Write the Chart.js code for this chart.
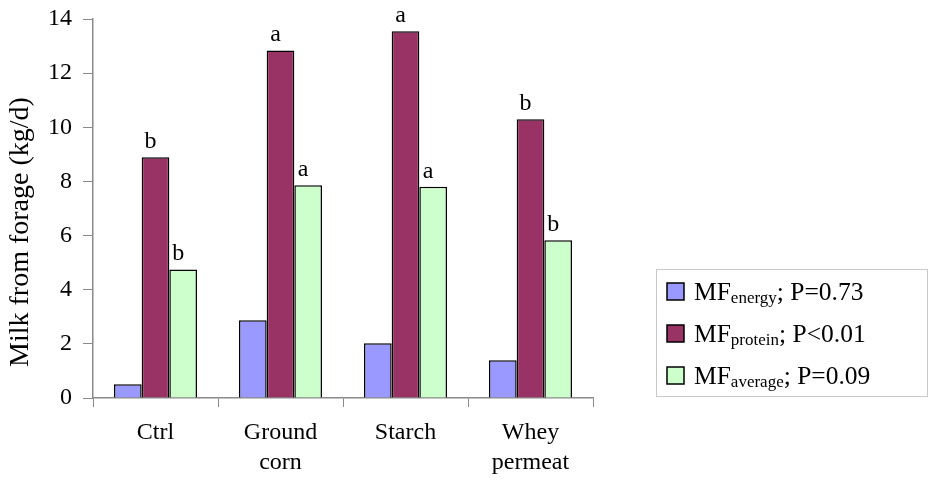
<!DOCTYPE html>
<html>
<head>
<meta charset="utf-8">
<script src="https://cdn.jsdelivr.net/npm/chart.js@4"></script>
<style>
  html, body { margin: 0; padding: 0; background: #ffffff; }
  #wrap { width: 930px; height: 480px; position: relative; }
</style>
</head>
<body>
<div id="wrap"><canvas id="c" width="930" height="480"></canvas></div>
<script>
// ---- data ----
const categories = ['Ctrl', ['Ground', 'corn'], 'Starch', ['Whey', 'permeat']];
const energyValues = [0.51, 2.87, 2.02, 1.39];
const proteinValues = [8.89, 12.84, 13.55, 10.30];
const averageValues = [4.75, 7.86, 7.80, 5.83];
const proteinLetters = ['b', 'a', 'a', 'b'];
const averageLetters = ['b', 'a', 'a', 'b'];
const seriesMain = ['MF', 'MF', 'MF'];
const seriesSub = ['energy', 'protein', 'average'];
const seriesP = ['; P=0.73', '; P<0.01', '; P=0.09'];
const yTicks = [0, 2, 4, 6, 8, 10, 12, 14];
const yTitle = 'Milk from forage (kg/d)';

const colors = ['#9999FF', '#993366', '#CCFFCC'];
const FONT = '"Liberation Serif", "Times New Roman", serif';
const axisColor = '#8a8a8a';

const lettersPlugin = {
  id: 'letters',
  afterDatasetsDraw(chart) {
    const ctx = chart.ctx;
    ctx.save();
    ctx.font = '24px ' + FONT;
    ctx.fillStyle = '#000';
    ctx.textAlign = 'center';
    ctx.textBaseline = 'alphabetic';
    [[1, proteinLetters], [2, averageLetters]].forEach(([di, letters]) => {
      const meta = chart.getDatasetMeta(di);
      meta.data.forEach((bar, i) => {
        ctx.fillText(letters[i], bar.x - 5, bar.y - 9);
      });
    });
    ctx.restore();
  }
};

const extrasPlugin = {
  id: 'extras',
  afterDraw(chart) {
    const ctx = chart.ctx;
    ctx.save();
    // y title
    ctx.translate(21, 232);
    ctx.rotate(-Math.PI / 2);
    ctx.font = '28px ' + FONT;
    ctx.fillStyle = '#000';
    ctx.textAlign = 'center';
    ctx.textBaseline = 'middle';
    ctx.fillText(yTitle, 0, 0);
    ctx.restore();

    // legend
    ctx.save();
    ctx.strokeStyle = '#c8c8c8';
    ctx.lineWidth = 1;
    ctx.strokeRect(656.5, 269.5, 271, 127);
    const rows = [291, 333, 375];
    for (let i = 0; i < 3; i++) {
      const cy = rows[i];
      ctx.fillStyle = colors[i];
      ctx.fillRect(667, cy - 8, 17, 17);
      ctx.strokeStyle = '#000';
      ctx.lineWidth = 1.5;
      ctx.strokeRect(667, cy - 8, 17, 17);
      ctx.fillStyle = '#000';
      ctx.textAlign = 'left';
      ctx.textBaseline = 'alphabetic';
      let x = 694;
      const base = cy + 9;
      ctx.font = '25.5px ' + FONT;
      ctx.fillText(seriesMain[i], x, base);
      x += ctx.measureText(seriesMain[i]).width;
      ctx.font = '17px ' + FONT;
      ctx.fillText(seriesSub[i], x, base + 3);
      x += ctx.measureText(seriesSub[i]).width;
      ctx.font = '25.5px ' + FONT;
      ctx.fillText(seriesP[i], x, base);
    }
    ctx.restore();
  }
};

new Chart(document.getElementById('c'), {
  type: 'bar',
  data: {
    labels: categories,
    datasets: [
      { label: seriesMain[0] + seriesSub[0] + seriesP[0], data: energyValues, backgroundColor: colors[0] },
      { label: seriesMain[1] + seriesSub[1] + seriesP[1], data: proteinValues, backgroundColor: colors[1] },
      { label: seriesMain[2] + seriesSub[2] + seriesP[2], data: averageValues, backgroundColor: colors[2] }
    ]
  },
  options: {
    responsive: false,
    animation: false,
    events: [],
    layout: { padding: { top: 19, right: 337, bottom: 0, left: 0 } },
    datasets: {
      bar: {
        borderColor: '#000',
        borderWidth: 1.5,
        categoryPercentage: 0.664,
        barPercentage: 1.0
      }
    },
    plugins: {
      legend: { display: false },
      tooltip: { enabled: false },
      title: { display: false }
    },
    scales: {
      x: {
        afterFit(scale) { scale.height = 82; scale.paddingLeft = 0; scale.paddingRight = 0; },
        grid: {
          offset: true,
          drawOnChartArea: false,
          drawTicks: true,
          tickLength: 9,
          color: axisColor,
          lineWidth: 1
        },
        border: { display: true, color: axisColor, width: 1.5 },
        ticks: {
          color: '#000',
          padding: 11,
          maxRotation: 0,
          autoSkip: false,
          font: { family: FONT, size: 24, lineHeight: 1.25 }
        }
      },
      y: {
        min: 0,
        max: 14,
        afterFit(scale) { scale.width = 93; scale.paddingTop = 0; scale.paddingBottom = 0; },
        afterBuildTicks(scale) { scale.ticks = yTicks.map(v => ({ value: v })); },
        grid: {
          drawOnChartArea: false,
          drawTicks: true,
          tickLength: 10,
          color: axisColor,
          lineWidth: 1
        },
        border: { display: true, color: axisColor, width: 1.5 },
        ticks: {
          color: '#000',
          padding: 11,
          font: { family: FONT, size: 24 }
        }
      }
    }
  },
  plugins: [lettersPlugin, extrasPlugin]
});
</script>
</body>
</html>
